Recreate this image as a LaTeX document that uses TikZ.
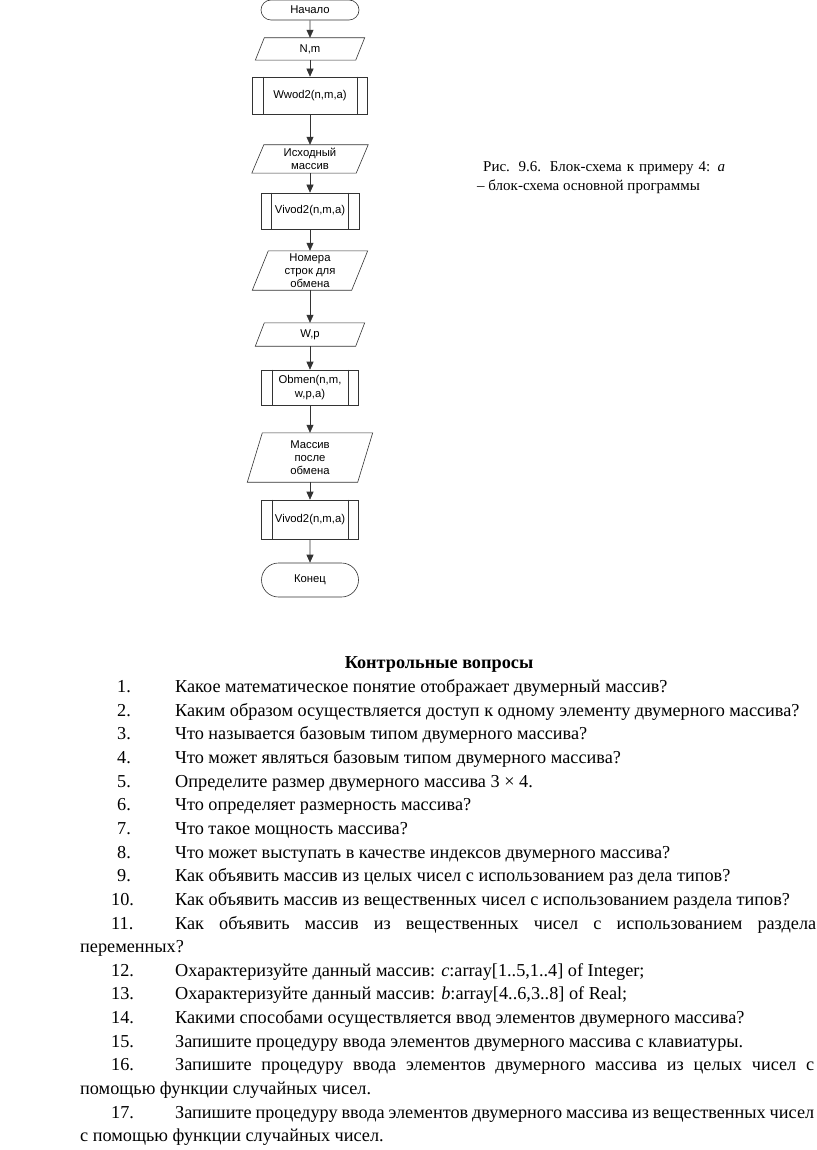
\documentclass[tikz,border=0pt]{standalone}
\usepackage{fontspec}
\setmainfont{Liberation Serif}
\newfontfamily\arial{Liberation Sans}
\usetikzlibrary{arrows.meta,shapes.misc}
\tikzset{
  ln/.style={line width=0.6pt, draw=black!80},
  fc/.style={font=\arial\fontsize{11.3}{13.3}\selectfont, align=center, inner sep=0pt},
  termbox/.style={fc, ln, draw, rounded rectangle},
  subbox/.style={fc, ln, draw, rectangle},
  iobox/.style={fc},
  arr/.style={ln, -{Triangle[length=8pt,width=7pt]}},
  bt/.style={font=\fontsize{18.25}{21}\selectfont, inner sep=0pt, anchor=base west},
  captxt/.style={font=\fontsize{15}{18}\selectfont, inner sep=0pt, anchor=base west},
}
\newcommand\paral[2]{% node name, skew
  \draw[ln] ([xshift=#2*0.5pt]#1.north west) -- ([xshift=#2*0.5pt]#1.north east)
    -- ([xshift=-#2*0.5pt]#1.south east) -- ([xshift=-#2*0.5pt]#1.south west) -- cycle;}
\newcommand\subl[2]{% node name, inset
  \draw[ln] ([xshift=#2pt]#1.north west) -- ([xshift=#2pt]#1.south west);
  \draw[ln] ([xshift=-#2pt]#1.north east) -- ([xshift=-#2pt]#1.south east);}
\begin{document}
\begin{tikzpicture}[x=1pt,y=-1pt]
\useasboundingbox[fill=white] (0,0) rectangle (816,1150);
% flowchart
\node[termbox, minimum width=98, minimum height=20] (start) at (310,10) {Начало};
\node[iobox, minimum width=100, minimum height=22] (nm) at (310,49) {N,m};
\paral{nm}{9}
\node[subbox, minimum width=115, minimum height=37] (wwod) at (310,95.5) {Wwod2(n,m,a)};
\subl{wwod}{11}
\node[iobox, minimum width=104, minimum height=28] (ish) at (310,159) {Исходный\\массив};
\paral{ish}{12}
\node[subbox, minimum width=98, minimum height=36] (viv1) at (310,211) {Vivod2(n,m,a)};
\subl{viv1}{11}
\node[iobox, minimum width=99, minimum height=39] (nom) at (310,270.5) {Номера\\строк для\\обмена};
\paral{nom}{16}
\node[iobox, minimum width=100, minimum height=23] (wp) at (310,334.5) {W,p};
\paral{wp}{9}
\node[subbox, minimum width=97, minimum height=35] (obm) at (310,387.5) {Obmen(n,m,\\w,p,a)};
\subl{obm}{11}
\node[iobox, minimum width=110, minimum height=49] (mas) at (310,457.5) {Массив\\после\\обмена};
\paral{mas}{15}
\node[subbox, minimum width=97, minimum height=39] (viv2) at (310,519.5) {Vivod2(n,m,a)};
\subl{viv2}{11}
\node[termbox, minimum width=97, minimum height=34] (end) at (310,580) {Конец};
\draw[arr] (start) -- (nm);
\draw[arr] (nm) -- (wwod);
\draw[arr] (wwod) -- (ish);
\draw[arr] (ish) -- (viv1);
\draw[arr] (viv1) -- (nom);
\draw[arr] (nom) -- (wp);
\draw[arr] (wp) -- (obm);
\draw[arr] (obm) -- (mas);
\draw[arr] (mas) -- (viv2);
\draw[arr] (viv2) -- (end);
% caption
\node[captxt] (cap1) at (483,172) {\makebox[242pt][s]{Рис. 9.6. Блок-схема к примеру 4: \textit{а}}};
\node[captxt] (cap2) at (477,191) {– блок-схема основной программы};
% questions
\node[font=\bfseries\fontsize{18.25}{21}\selectfont, inner sep=0pt, anchor=base] (head) at (439,668) {Контрольные вопросы};
\node[bt] (n1) at (117,692.5) {1.};
\node[bt] (t1) at (175,692.5) {Какое математическое понятие отображает двумерный массив?};
\node[bt] (n2) at (117,716.15) {2.};
\node[bt] (t2) at (175,716.15) {Каким образом осуществляется доступ к одному элементу двумерного массива?};
\node[bt] (n3) at (117,739.8) {3.};
\node[bt] (t3) at (175,739.8) {Что называется базовым типом двумерного массива?};
\node[bt] (n4) at (117,763.45) {4.};
\node[bt] (t4) at (175,763.45) {Что может являться базовым типом двумерного массива?};
\node[bt] (n5) at (117,787.1) {5.};
\node[bt] (t5) at (175,787.1) {Определите размер двумерного массива 3 × 4.};
\node[bt] (n6) at (117,810.75) {6.};
\node[bt] (t6) at (175,810.75) {Что определяет размерность массива?};
\node[bt] (n7) at (117,834.4) {7.};
\node[bt] (t7) at (175,834.4) {Что такое мощность массива?};
\node[bt] (n8) at (117,858.05) {8.};
\node[bt] (t8) at (175,858.05) {Что может выступать в качестве индексов двумерного массива?};
\node[bt] (n9) at (117,881.7) {9.};
\node[bt] (t9) at (175,881.7) {Как объявить массив из целых чисел с использованием раз дела типов?};
\node[bt] (n10) at (111,905.35) {10.};
\node[bt] (t10) at (175,905.35) {Как объявить массив из вещественных чисел с использованием раздела типов?};
\node[bt] (n11) at (111,929) {11.};
\node[bt] (t11) at (175,929) {\makebox[641pt][s]{Как объявить массив из вещественных чисел с использованием раздела}};
\node[bt] (t11b) at (80,952.65) {переменных?};
\node[bt] (n12) at (111,976.3) {12.};
\node[bt] (t12) at (175,976.3) {Охарактеризуйте данный массив: \textit{c}:array[1..5,1..4] of Integer;};
\node[bt] (n13) at (111,999.95) {13.};
\node[bt] (t13) at (175,999.95) {Охарактеризуйте данный массив: \textit{b}:array[4..6,3..8] of Real;};
\node[bt] (n14) at (111,1023.6) {14.};
\node[bt] (t14) at (175,1023.6) {Какими способами осуществляется ввод элементов двумерного массива?};
\node[bt] (n15) at (111,1047.25) {15.};
\node[bt] (t15) at (175,1047.25) {Запишите процедуру ввода элементов двумерного массива с клавиатуры.};
\node[bt] (n16) at (111,1070.9) {16.};
\node[bt] (t16) at (175,1070.9) {\makebox[639pt][s]{Запишите процедуру ввода элементов двумерного массива из целых чисел с}};
\node[bt] (t16b) at (80,1094.55) {помощью функции случайных чисел.};
\node[bt] (n17) at (111,1118.2) {17.};
\node[bt] (t17) at (175,1118.2) {\makebox[639pt][s]{Запишите процедуру ввода элементов двумерного массива из вещественных чисел}};
\node[bt] (t17b) at (80,1141.85) {с помощью функции случайных чисел.};
\end{tikzpicture}
\end{document}
